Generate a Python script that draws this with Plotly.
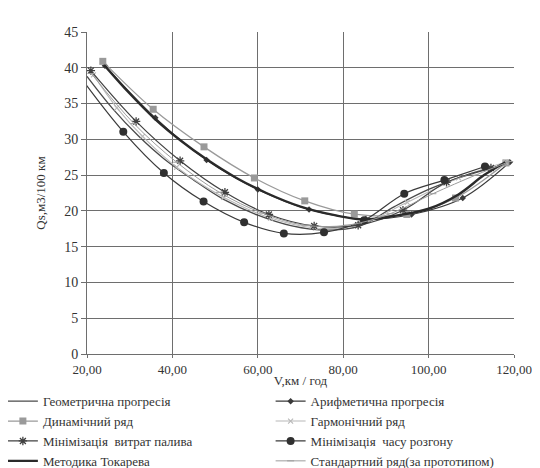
import plotly.graph_objects as go

# ---- data ----
geo_x = [20, 26, 32, 38, 45, 52, 60, 68, 76, 84, 92, 100, 108, 116, 119]
geo_y = [38.8, 34.3, 30.5, 27.3, 24.3, 21.6, 19.4, 17.9, 17.3, 17.9, 20.6, 23.0, 24.8, 26.2, 26.7]

arith_x = [24.2, 36, 48, 60, 72, 85.3, 96, 108, 119]
arith_y = [40.3, 33.0, 27.1, 23.0, 20.2, 18.85, 19.5, 21.8, 26.8]

dyn_x = [23.7, 35.5, 47.4, 59.2, 71.0, 82.6, 94.9, 106.3, 118.1]
dyn_y = [40.9, 34.2, 28.95, 24.6, 21.4, 19.55, 19.5, 21.8, 26.7]

harm_x = [21.5, 27, 33, 41, 52, 63, 73.5, 83.5, 95, 107, 118]
harm_y = [39.0, 34.4, 30.4, 26.1, 21.9, 19.0, 17.6, 18.0, 21.2, 24.6, 26.8]

fuel_x = [20.9, 31.5, 41.8, 52.3, 62.6, 73.2, 83.5, 94.0, 104.2, 114.6]
fuel_y = [39.6, 32.5, 27.0, 22.6, 19.5, 17.9, 18.0, 20.1, 24.0, 26.0]

accel_x = [19.05, 28.5, 38.0, 47.3, 56.8, 66.1, 75.5, 84.9, 94.3, 103.7, 113.2]
accel_y = [38.2, 31.05, 25.3, 21.3, 18.4, 16.85, 17.0, 18.7, 22.4, 24.3, 26.2]

tok_x = [24, 30, 36, 42, 48, 55, 62, 70, 78, 85, 92, 100, 107, 113, 118]
tok_y = [40.4, 36.4, 32.8, 29.8, 27.2, 24.6, 22.5, 20.6, 19.4, 18.8, 19.3, 20.3, 22.3, 25.0, 26.8]

std_x = [21, 31, 41, 51, 61, 71, 81, 91, 101, 111, 119]
std_y = [39.2, 32.2, 26.8, 22.6, 19.7, 18.0, 18.0, 19.6, 22.4, 25.0, 26.9]

names = [
    "Геометрична прогресія",
    "Арифметична прогресія",
    "Динамічний ряд",
    "Гармонічний ряд",
    "Мінімізація  витрат палива",
    "Мінімізація  часу розгону",
    "Методика Токарева",
    "Стандартний ряд(за прототипом)",
]

x_ticks = [20, 40, 60, 80, 100, 120]
y_ticks = [0, 5, 10, 15, 20, 25, 30, 35, 40, 45]

FONT = "Liberation Serif"

fig = go.Figure()
fig.add_trace(go.Scatter(x=geo_x, y=geo_y, name=names[0], mode="lines", legend="legend",
                         line=dict(color="#4a4a4a", width=1.3, shape="spline")))
fig.add_trace(go.Scatter(x=arith_x, y=arith_y, name=names[1], mode="lines+markers", legend="legend2",
                         line=dict(color="#3a3a3a", width=1.2, shape="spline"),
                         marker=dict(symbol="diamond", size=5, color="#3a3a3a")))
fig.add_trace(go.Scatter(x=dyn_x, y=dyn_y, name=names[2], mode="lines+markers", legend="legend",
                         line=dict(color="#9a9a9a", width=1.3, shape="spline"),
                         marker=dict(symbol="square", size=7, color="#9a9a9a")))
fig.add_trace(go.Scatter(x=harm_x, y=harm_y, name=names[3], mode="lines+markers", legend="legend2",
                         line=dict(color="#b8b8b8", width=1.1, shape="spline"),
                         marker=dict(symbol="x-thin-open", size=5,
                                     line=dict(color="#b0b0b0", width=1.1))))
fig.add_trace(go.Scatter(x=fuel_x, y=fuel_y, name=names[4], mode="lines+markers", legend="legend",
                         line=dict(color="#404040", width=1.2, shape="spline"),
                         marker=dict(symbol="asterisk-open", size=7,
                                     line=dict(color="#333333", width=1.3))))
fig.add_trace(go.Scatter(x=accel_x, y=accel_y, name=names[5], mode="lines+markers", legend="legend2",
                         line=dict(color="#3a3a3a", width=1.2, shape="spline"),
                         marker=dict(symbol="circle", size=8, color="#303030")))
fig.add_trace(go.Scatter(x=tok_x, y=tok_y, name=names[6], mode="lines", legend="legend",
                         line=dict(color="#2a2a2a", width=2.4, shape="spline")))
fig.add_trace(go.Scatter(x=std_x, y=std_y, name=names[7], mode="lines+markers", legend="legend2",
                         line=dict(color="#9c9c9c", width=1.0, shape="spline"),
                         marker=dict(symbol="line-ew-open", size=5,
                                     line=dict(color="#9c9c9c", width=1))))

axis_common = dict(
    showgrid=True, gridcolor="#6e6e6e", gridwidth=1,
    showline=True, linecolor="#6e6e6e", linewidth=1,
    ticks="outside", tickcolor="#6e6e6e",
    zeroline=False,
)

legend_common = dict(orientation="v", xanchor="left", yanchor="top",
                     itemwidth=30, tracegroupgap=0,
                     font=dict(family=FONT, size=13, color="#333"),
                     bgcolor="rgba(0,0,0,0)")

# the page body adds an 8px offset, so the figure is sized to fill the rest
fig.update_layout(
    width=532, height=460,
    paper_bgcolor="white", plot_bgcolor="white",
    separators=", ",
    margin=dict(l=79, r=26, t=24, b=114, autoexpand=False),
    font=dict(family=FONT, size=13, color="#333"),
    xaxis=dict(range=[20, 120], tickvals=x_ticks, tickformat=".2f",
               ticklen=3, automargin=True,
               tickfont=dict(family=FONT, size=13, color="#333"),
               title=dict(text="V,км / год", standoff=0,
                          font=dict(family=FONT, size=13, color="#333")),
               **axis_common),
    yaxis=dict(range=[0, 45], tickvals=y_ticks, ticklen=5, automargin=False,
               tickfont=dict(family=FONT, size=14, color="#333"),
               title=dict(text="Qs,м3/100 км",
                          font=dict(family=FONT, size=13, color="#333")),
               **axis_common),
    legend=dict(x=-0.197, y=-0.1, **legend_common),
    legend2=dict(x=0.43, y=-0.1, **legend_common),
    showlegend=True,
)

fig.write_html("out.html")
